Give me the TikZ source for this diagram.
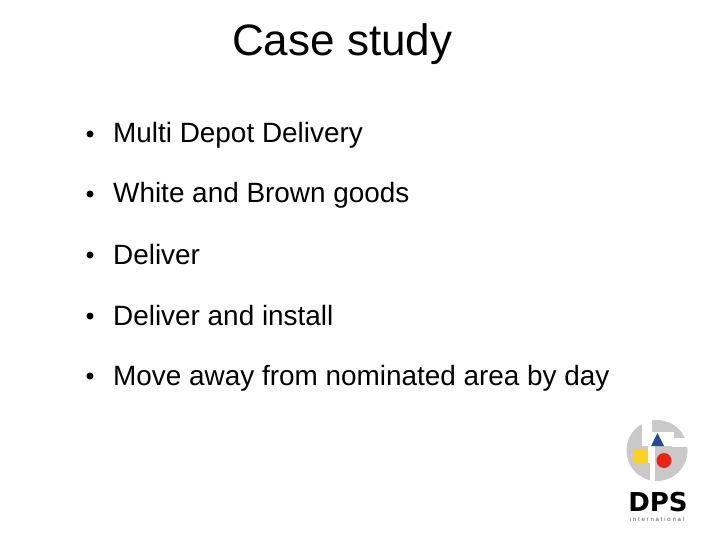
\documentclass[tikz,border=0pt]{standalone}
\usepackage{fontspec}
\setmainfont{Liberation Sans}
\newfontfamily\logofont{DejaVu Sans}
\definecolor{logogray}{HTML}{C9C9C9}
\definecolor{logoblue}{HTML}{1F4E9E}
\definecolor{logoyellow}{HTML}{FFD21F}
\definecolor{logored}{HTML}{EE2211}
\tikzset{
  x=1pt,y=-1pt,
  titletext/.style={inner sep=0pt,anchor=base west,font=\fontsize{44}{50}\selectfont,text=black},
  bodytext/.style={inner sep=0pt,anchor=base west,font=\fontsize{27.9}{30}\selectfont,text=black},
  dot/.style={circle,fill=black,inner sep=0pt,minimum size=7pt},
  logobig/.style={inner sep=0pt,anchor=base,font=\logofont\bfseries\fontsize{26}{28}\selectfont,text=black},
  logosmall/.style={inner sep=0pt,anchor=base,font=\addfontfeature{LetterSpace=30}\fontsize{6}{7}\selectfont,text=black!65},
}
\begin{document}
\begin{tikzpicture}
\useasboundingbox (0,0) rectangle (720,540);
\fill[white] (0,0) rectangle (720,540);
\node[titletext] (title) at (232,56) {Case study};
\foreach \n/\y/\t in {a/143/Multi Depot Delivery,b/203/White and Brown goods,c/264/Deliver,d/325/Deliver and install,e/385/Move away from nominated area by day}{
  \node[dot] (dot\n) at (90,\y-9) {};
  \node[bodytext] (text\n) at (113,\y) {\t};
}
% logo
\fill[logogray] (657,450.5) circle (30.5);
\fill[white] (642,418) rectangle (652,434);
\fill[white] (642,432) rectangle (674,446);
\fill[white] (672,438) rectangle (689,447);
\fill[white] (648,446) rectangle (655,463);
\fill[white] (650,462) rectangle (655,483);
\fill[logoblue] (657.5,433) -- (664,446) -- (651,446) -- cycle;
\fill[logoyellow] (633,450) rectangle (648,463);
\fill[logored] (664,460.5) circle (7.5);
\node[logobig] (dps) at (658,511) {DPS};
\node[logosmall] (intl) at (657,521.5) {international};
\end{tikzpicture}
\end{document}
